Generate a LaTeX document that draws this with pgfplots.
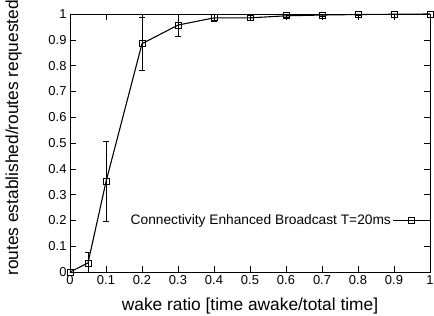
\documentclass[border=0pt]{standalone}
\usepackage{pgfplots}
\pgfplotsset{compat=1.18}
\usepackage{fontspec}
\setmainfont{Liberation Sans}
\begin{document}
\begin{tikzpicture}
\begin{axis}[
 scale only axis, width=360bp, height=258bp,
 xmin=0,xmax=1,ymin=0,ymax=1,
 xtick={0,0.1,0.2,0.3,0.4,0.5,0.6,0.7,0.8,0.9,1},
 xticklabels={0,0.1,0.2,0.3,0.4,0.5,0.6,0.7,0.8,0.9,1},
 ytick={0,0.1,0.2,0.3,0.4,0.5,0.6,0.7,0.8,0.9,1},
 yticklabels={0,0.1,0.2,0.3,0.4,0.5,0.6,0.7,0.8,0.9,1},
 tick label style={font=\fontsize{13}{15}\selectfont},
 xlabel={wake ratio [time awake/total time]},
 ylabel={routes established/routes requested},
 every axis x label/.style={at={(axis description cs:0.5,-0.1473)}, anchor=base, font=\fontsize{17.4}{20}\selectfont},
 every axis y label/.style={at={(axis description cs:-0.1444,0.52)}, rotate=90, anchor=base, font=\fontsize{17.4}{20}\selectfont},
 major tick length=6bp,
 tick style={black, line width=0.6pt},
 axis line style={line width=0.9pt},
 legend style={draw=none, fill=none, at={(axis cs:1,0.2)}, anchor=east, font=\fontsize{13.8}{16}\selectfont, inner sep=0pt, outer sep=0pt},
 legend plot pos=right,
 legend image code/.code={\draw[mark repeat=2,mark phase=2,#1] plot coordinates {(0bp,0bp)(18bp,0bp)(36bp,0bp)};},
]
\addplot[black, line width=1.1pt, mark=square, mark size=3bp, mark options={line width=0.8pt},
  error bars/.cd, y dir=both, y explicit,
  error bar style={line width=0.6pt},
  error mark options={rotate=90, mark size=3bp, line width=0.6pt}]
 coordinates {
 (0,0) +- (0,0)
 (0.05,0.035) +- (0,0.042)
 (0.1,0.35) +- (0,0.155)
 (0.2,0.885) +- (0,0.103)
 (0.3,0.957) +- (0,0.043)
 (0.4,0.985) +- (0,0.012)
 (0.5,0.985) +- (0,0.01)
 (0.6,0.993) +- (0,0.005)
 (0.7,0.996) +- (0,0.003)
 (0.8,0.998) +- (0,0.002)
 (0.9,0.999) +- (0,0.001)
 (1,1) +- (0,0)
 };
\addlegendentry{Connectivity Enhanced Broadcast T=20ms\hspace{12bp}}
\end{axis}
\pgfresetboundingbox
\useasboundingbox (-70bp,-44bp) rectangle (364bp,272bp);
\end{tikzpicture}
\end{document}
